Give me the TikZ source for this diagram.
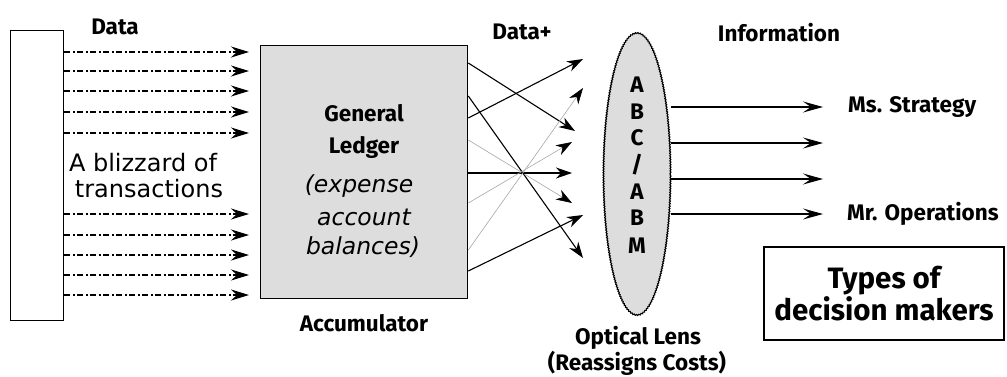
\documentclass[tikz,border=0pt]{standalone}
\usepackage{fontspec}
\setmainfont{Fira Sans}
\newfontfamily\djfont{DejaVu Sans}
\usetikzlibrary{arrows.meta,shapes.geometric,decorations.pathmorphing}
\tikzset{
  lbl/.style={font=\bfseries\fontsize{22.5}{24}\selectfont, inner sep=0pt},
  plain/.style={font=\djfont\fontsize{24}{26}\selectfont, inner sep=0pt},
  ital/.style={font=\djfont\itshape\fontsize{23.5}{25}\selectfont, inner sep=0pt},
  dasharrow/.style={line width=2pt, dash pattern=on 6pt off 2.5pt on 2pt off 2.5pt,
     -{Stealth[length=18pt,width=11pt,inset=6pt]}},
  thinarrow/.style={line width=1.1pt, -{Stealth[length=16pt,width=11pt,inset=5pt]}},
  greyarrow/.style={line width=0.6pt, draw=gray!70, -{Stealth[length=16pt,width=11pt,inset=5pt,color=black,fill=black]}},
  outarrow/.style={line width=1.1pt, -{Stealth[length=20pt,width=11pt,inset=8pt]}},
}
\begin{document}
\begin{tikzpicture}[x=1pt,y=-1pt]
\useasboundingbox (0,0) rectangle (1007,376);
% source box
\node[draw, line width=1.3pt, minimum width=53pt, minimum height=290pt, anchor=north west, inner sep=0pt] (src) at (10,30) {};
\node[lbl] (data) at (115,27) {Data};
\foreach \i/\y in {1/52,2/71,3/91,4/112,5/133,6/214,7/235,8/255,9/275,10/295}{
  \coordinate (d\i) at (249,\y);
}
\foreach \i in {1,2,3,4,5,6,7,8,10}{
  \draw[dasharrow] (src.east |- d\i) -- (d\i);
}
\draw[dasharrow, line width=1.1pt] (src.east |- d9) -- (d9);
\node[plain] (bl1) at (143,163) {A blizzard of};
\node[plain] (bl2) at (149,189) {transactions};
% general ledger
\node[draw, line width=1.3pt, fill=gray!27, minimum width=207pt, minimum height=253pt, anchor=north west, inner sep=0pt] (gl) at (260,45) {};
\node[lbl] (gl1) at (364,113) {General};
\node[lbl] (gl2) at (364,147) {Ledger};
\node[ital] (gl3) at (359,186) {(expense};
\node[ital] (gl4) at (364,217) {account};
\node[ital] (gl5) at (363,247) {balances)};
\node[lbl] (acc) at (364,323) {Accumulator};
\node[lbl] (dplus) at (522,32) {Data+};
% crossing arrows
\coordinate (e1) at (575,131);
\coordinate (e2) at (583,258);
\coordinate (e3) at (583,59);
\coordinate (e4) at (572,203);
\coordinate (e5) at (572,173);
\coordinate (e6) at (572,142);
\coordinate (e7) at (583,88);
\coordinate (e8) at (583,215);
\draw[thinarrow] (gl.east |- 0,63) -- (e1);
\draw[thinarrow] (gl.east |- 0,96) -- (e2);
\draw[thinarrow] (gl.east |- 0,118) -- (e3);
\draw[greyarrow] (gl.east |- 0,140) -- (e4);
\draw[thinarrow] (gl.east |- e5) -- (e5);
\draw[greyarrow] (gl.east |- 0,203) -- (e6);
\draw[greyarrow] (gl.east |- 0,250) -- (e7);
\draw[thinarrow] (gl.east |- 0,271) -- (e8);
% lens
\node[draw, ellipse, line width=1.1pt, fill=gray!27, minimum width=67pt, minimum height=282pt, inner sep=0pt,
      decorate, decoration={zigzag, segment length=2.5pt, amplitude=0.5pt}] (lens) at (637,174) {};
\foreach \t/\y [count=\k] in {A/85,B/112,C/138,{/}/165,A/192,B/218,M/246}{
  \node[lbl] (l\k) at (637,\y) {\t};
}
\node[lbl] (opt1) at (638,338) {Optical Lens};
\node[lbl] (opt2) at (637,363) {(Reassigns Costs)};
\node[lbl] (info) at (779,33) {Information};
% outputs
\foreach \i/\y in {1/107,2/143,3/179,4/214}{
  \coordinate (o\i) at (823,\y);
  \draw[outarrow] (lens.east |- o\i) -- (o\i);
}
\node[lbl, anchor=west] (ms) at (848,107) {Ms. Strategy};
\node[lbl, anchor=west] (mr) at (847,214) {Mr. Operations};
\node[draw, line width=1.3pt, minimum width=240pt, minimum height=93pt, inner sep=0pt, align=center,
      font=\bfseries\fontsize{29.5}{32}\selectfont] (types) at (884,293.5) {Types of\\decision makers};
\end{tikzpicture}
\end{document}
